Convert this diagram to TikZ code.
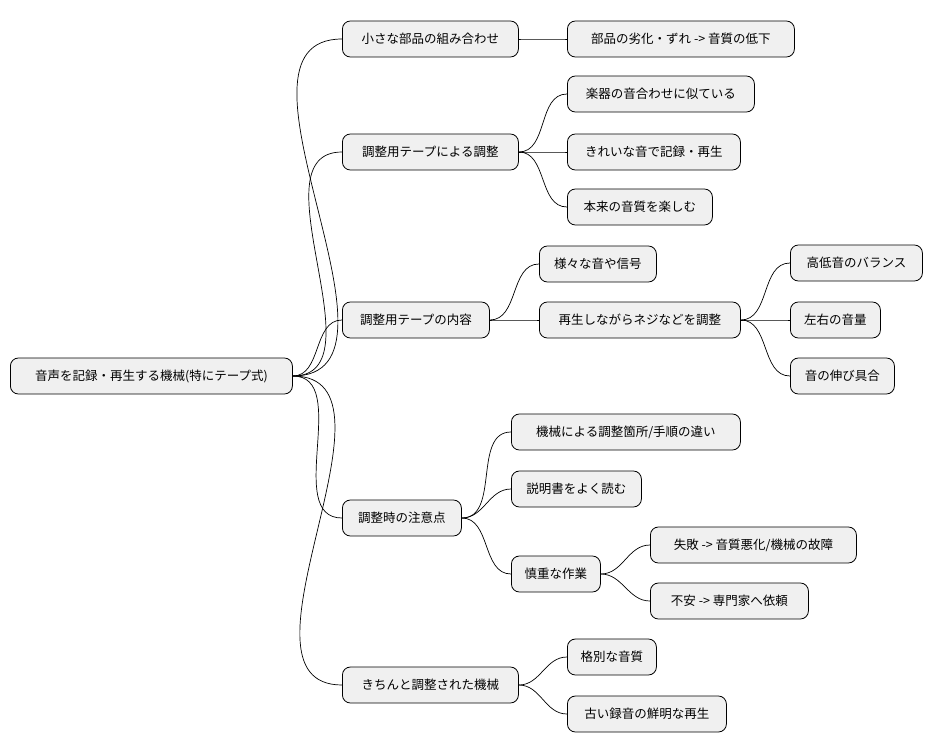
\documentclass[tikz,border=0pt]{standalone}
\usepackage{fontspec}
\setmainfont{Noto Sans CJK JP}
\begin{document}
\begin{tikzpicture}[x=1pt,y=-1pt,
  box/.style={draw=black,line width=0.8pt,fill=gray!12,rounded corners=8pt,anchor=west,minimum height=36pt,inner xsep=0pt,align=center,font=\fontsize{12.5}{14}\selectfont},
  ln/.style={draw=black,line width=0.7pt}]
\useasboundingbox (0,0) rectangle (933,752);
\newcommand\nd[5]{\node[box,minimum width=#4pt] (#1) at (#2,#3) {#5};}
\nd{r}{10}{376}{282}{音声を記録・再生する機械(特にテープ式)}
\nd{a}{342}{39}{176}{小さな部品の組み合わせ}
\nd{a1}{567}{39}{227}{部品の劣化・ずれ -> 音質の低下}
\nd{b}{342}{152}{176}{調整用テープによる調整}
\nd{b1}{567}{94}{187}{楽器の音合わせに似ている}
\nd{b2}{567}{152}{173}{きれいな音で記録・再生}
\nd{b3}{567}{207}{145}{本来の音質を楽しむ}
\nd{c}{342}{320}{147}{調整用テープの内容}
\nd{c1}{539}{264}{117}{様々な音や信号}
\nd{c2}{539}{320}{201}{再生しながらネジなどを調整}
\nd{c21}{790}{263}{132}{高低音のバランス}
\nd{c22}{790}{320}{90}{左右の音量}
\nd{c23}{790}{376}{104}{音の伸び具合}
\nd{d}{342}{518}{119}{調整時の注意点}
\nd{d1}{511}{432}{229}{機械による調整箇所/手順の違い}
\nd{d2}{511}{489}{130}{説明書をよく読む}
\nd{d3}{511}{574}{89}{慎重な作業}
\nd{d31}{650}{545}{206}{失敗 -> 音質悪化/機械の故障}
\nd{d32}{650}{601}{158}{不安 -> 専門家へ依頼}
\nd{e}{342}{685}{176}{きちんと調整された機械}
\nd{e1}{567}{657}{89}{格別な音質}
\nd{e2}{567}{714}{159}{古い録音の鮮明な再生}
\foreach \p/\c in {r/a,r/b,r/c,r/d,r/e,a/a1,b/b1,b/b2,b/b3,c/c1,c/c2,c2/c21,c2/c22,c2/c23,d/d1,d/d2,d/d3,d3/d31,d3/d32,e/e1,e/e2}
  \draw[ln] (\p.east) to[out=0,in=180] (\c.west);
\end{tikzpicture}
\end{document}
